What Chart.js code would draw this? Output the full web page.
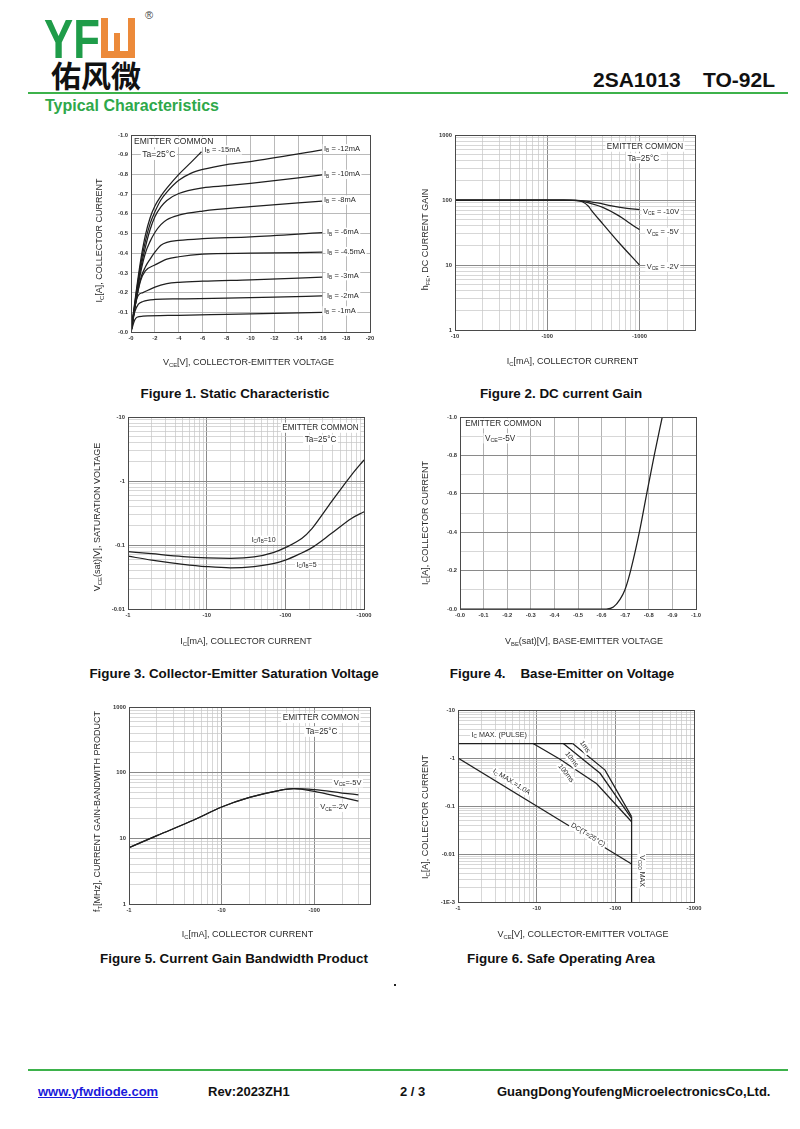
<!DOCTYPE html>
<html><head><meta charset="utf-8">
<script src="https://cdn.jsdelivr.net/npm/chart.js@4.4.1/dist/chart.umd.min.js"></script>
<style>
html,body{margin:0;padding:0;background:#fff;}
#page{position:relative;width:800px;height:1129px;overflow:hidden;font-family:"Liberation Sans",Arial,sans-serif;background:#fff;}
.abs{position:absolute;white-space:pre;line-height:1;}
.cap{position:absolute;font-weight:bold;font-size:13.4px;line-height:13.4px;color:#111;transform:translateX(-50%);white-space:pre;}
.fig{position:absolute;}
.hline{position:absolute;height:2px;background:#3db24b;}
.ob{position:absolute;background:#ec8a3a;}
</style></head><body>
<div id="page">
  <div class="abs" style="left:44px;top:11px;font-size:56px;font-weight:bold;color:#1f9c49;transform:scaleX(0.78);transform-origin:0 0;">YF</div>
  <div class="ob" style="left:101px;top:18px;width:7px;height:40px;"></div>
  <div class="ob" style="left:128px;top:18px;width:7px;height:40px;"></div>
  <div class="ob" style="left:101px;top:51px;width:34px;height:7px;"></div>
  <div class="ob" style="left:114px;top:33px;width:6px;height:20px;"></div>
  <div class="abs" style="left:145px;top:10px;font-size:11px;color:#444;">®</div>
  <div class="abs" style="left:51px;top:59px;font-size:30px;font-weight:bold;color:#111;font-family:'Noto Sans CJK SC',sans-serif;">佑风微</div>
  <div class="abs" style="left:593px;top:69px;font-size:21px;font-weight:bold;color:#111;">2SA1013</div>
  <div class="abs" style="left:703px;top:69px;font-size:21px;font-weight:bold;color:#111;">TO-92L</div>
  <div class="hline" style="left:28px;top:92px;width:760px;"></div>
  <div class="abs" style="left:45px;top:98px;font-size:16px;font-weight:bold;color:#2ea84a;">Typical Characteristics</div>

  <div class="cap" style="left:235px;top:386.5px;">Figure 1. Static Characteristic</div>
  <div class="cap" style="left:561px;top:386.5px;">Figure 2. DC current Gain</div>
  <div class="cap" style="left:234px;top:666.5px;">Figure 3. Collector-Emitter Saturation Voltage</div>
  <div class="cap" style="left:562px;top:666.5px;">Figure 4.    Base-Emitter on Voltage</div>
  <div class="cap" style="left:234px;top:951.5px;">Figure 5. Current Gain Bandwidth Product</div>
  <div class="cap" style="left:561px;top:951.5px;">Figure 6. Safe Operating Area</div>
  <div style="position:absolute;left:394px;top:984px;width:2px;height:2px;background:#222;"></div>

  <div class="hline" style="left:28px;top:1069px;width:760px;"></div>
  <div class="abs" style="left:38px;top:1084.5px;font-size:13px;font-weight:bold;color:#1a1adb;text-decoration:underline;">www.yfwdiode.com</div>
  <div class="abs" style="left:208px;top:1084.5px;font-size:13px;font-weight:bold;color:#111;">Rev:2023ZH1</div>
  <div class="abs" style="left:400px;top:1084.5px;font-size:13px;font-weight:bold;color:#111;">2 / 3</div>
  <div class="abs" style="left:497px;top:1084.5px;font-size:13px;font-weight:bold;color:#111;">GuangDongYoufengMicroelectronicsCo,Ltd.</div>
</div>
<script>
const FONT = '"Liberation Sans", Arial, Helvetica, sans-serif';

// ================= DATA (magnitudes; axes are labelled with the minus sign) =================
// Figure 1: Static characteristic  [Vce(V), Ic(A)]
const f1_xLabels = ['-0','-2','-4','-6','-8','-10','-12','-14','-16','-18','-20'];
const f1_yLabels = ['-0.0','-0.1','-0.2','-0.3','-0.4','-0.5','-0.6','-0.7','-0.8','-0.9','-1.0'];
const f1_ib1   = [[0,0],[0.3,0.06],[0.5,0.075],[1,0.08],[4,0.085],[8,0.09],[12,0.095],[16,0.1]];
const f1_ib2   = [[0,0],[0.3,0.1],[0.6,0.14],[1,0.155],[2,0.165],[4,0.168],[8,0.172],[12,0.177],[16,0.183]];
const f1_ib3   = [[0,0],[0.3,0.12],[0.6,0.185],[1,0.2],[2,0.228],[3,0.245],[4,0.252],[6,0.258],[10,0.265],[16,0.278]];
const f1_ib4_5 = [[0,0],[0.4,0.15],[0.8,0.26],[1.2,0.31],[2,0.34],[3,0.37],[4,0.382],[6,0.395],[10,0.4],[16,0.405]];
const f1_ib6   = [[0,0],[0.4,0.15],[0.8,0.27],[1.2,0.33],[1.6,0.37],[2,0.405],[2.5,0.44],[3,0.455],[4,0.465],[6,0.474],[10,0.483],[16,0.505]];
const f1_ib8   = [[0,0],[0.4,0.16],[0.8,0.3],[1.2,0.4],[1.6,0.46],[2,0.505],[2.5,0.545],[3,0.57],[4,0.593],[6,0.614],[10,0.636],[16,0.664]];
const f1_ib10  = [[0,0],[0.4,0.17],[0.8,0.32],[1.2,0.43],[1.6,0.52],[2,0.585],[2.5,0.635],[3,0.668],[4,0.703],[6,0.732],[8,0.743],[10,0.755],[16,0.797]];
const f1_ib12  = [[0,0],[0.4,0.18],[0.8,0.34],[1.2,0.46],[1.6,0.55],[2,0.61],[2.5,0.67],[3,0.71],[4,0.77],[5,0.805],[6,0.825],[8,0.85],[10,0.865],[16,0.924]];
const f1_ib15  = [[0,0],[0.4,0.19],[0.8,0.36],[1.2,0.49],[1.6,0.58],[2,0.64],[2.5,0.69],[3,0.73],[4,0.8],[5,0.86],[5.9,0.915]];

// Figure 2: DC current gain  [Ic(mA), hFE]
const f2_xDecades = [10,100,1000];   const f2_xLabels = ['-10','-100','-1000'];
const f2_yDecades = [1,10,100,1000]; const f2_yLabels = ['1','10','100','1000'];
const f2_vce10 = [[10,100],[180,100],[250,97],[350,90],[500,81],[700,75],[1000,71]];
const f2_vce5  = [[10,100],[150,100],[220,98],[300,88],[400,77],[600,57],[800,43],[1000,35]];
const f2_vce2  = [[10,100],[150,100],[200,99],[240,94],[280,80],[300,70],[400,43],[600,22],[1000,10]];

// Figure 3: Vce(sat)  [Ic(mA), Vce(sat)(V)]
const f3_xDecades = [1,10,100,1000];   const f3_xLabels = ['-1','-10','-100','-1000'];
const f3_yDecades = [0.01,0.1,1,10];   const f3_yLabels = ['-0.01','-0.1','-1','-10'];
const f3_ratio10 = [[1,0.079],[2,0.073],[5,0.066],[10,0.063],[20,0.062],[40,0.065],[70,0.076],[100,0.091],[163,0.127],[218,0.18],[264,0.246],[387,0.475],[692,1.24],[1000,2.13]];
const f3_ratio5  = [[1,0.067],[2,0.058],[5,0.05],[10,0.046],[20,0.044],[40,0.046],[70,0.051],[100,0.058],[150,0.072],[218,0.091],[387,0.152],[692,0.26],[1000,0.33]];

// Figure 4: Base-emitter on voltage  [Vbe(V), Ic(A)]
const f4_xLabels = ['-0.0','-0.1','-0.2','-0.3','-0.4','-0.5','-0.6','-0.7','-0.8','-0.9','-1.0'];
const f4_yLabels = ['-0.0','','-0.2','','-0.4','','-0.6','','-0.8','','-1.0'];
const f4_vbe = [[0,0],[0.62,0],[0.65,0.01],[0.678,0.05],[0.699,0.1],[0.723,0.2],[0.76,0.4],[0.791,0.6],[0.823,0.8],[0.857,1.0]];

// Figure 5: fT  [Ic(mA), fT(MHz)]
const f5_xDecades = [1,10,100];        const f5_xLabels = ['-1','-10','-100'];
const f5_yDecades = [1,10,100,1000];   const f5_yLabels = ['1','10','100','1000'];
const f5_vce5 = [[1,7.2],[2,11],[5,19],[10,30],[20,42],[40,53],[60,57],[100,55],[200,49],[300,46]];
const f5_vce2 = [[1,7.2],[2,11],[5,19],[10,30],[20,42],[40,53],[60,57],[100,52],[200,42],[300,37]];

// Figure 6: Safe operating area  [Vce(V), Ic(A)]
const f6_xDecades = [1,10,100,1000];          const f6_xLabels = ['-1','-10','-100','-1000'];
const f6_yDecades = [0.001,0.01,0.1,1,10];    const f6_yLabels = ['-1E-3','-0.01','-0.1','-1','-10'];
const f6_pulse = [[1,2],[28.7,2]];
const f6_100ms = [[9,2],[19.8,0.94],[58,0.29],[161,0.047]];
const f6_10ms  = [[21.8,2],[64,0.48],[161,0.055]];
const f6_1ms   = [[28.7,2],[74,0.56],[161,0.06]];
const f6_dc    = [[1,1],[161,0.0062]];
const f6_vceo  = [[161,0.06],[161,0.001]];

// ================= HELPERS =================
function parseRich(s){const out=[];const re=/_\{([^}]*)\}/g;let last=0,m;while((m=re.exec(s))){if(m.index>last)out.push({t:s.slice(last,m.index),sub:false});out.push({t:m[1],sub:true});last=re.lastIndex;}if(last<s.length)out.push({t:s.slice(last),sub:false});return out;}
function richWidth(ctx,segs,size,weight){let w=0;for(const g of segs){ctx.font=`${weight} ${g.sub?size*0.65:size}px ${FONT}`;w+=ctx.measureText(g.t).width;}return w;}
function drawRich(ctx,s,x,y,size,o){
  o=o||{};const segs=parseRich(s);const weight=o.weight||'normal';const w=richWidth(ctx,segs,size,weight);
  let sx=o.align==='center'?x-w/2:(o.align==='right'?x-w:x);
  ctx.save();ctx.textBaseline='middle';ctx.textAlign='left';
  if(o.bg){ctx.fillStyle=o.bg;ctx.fillRect(sx-1.5,y-size*0.62,w+3,size*1.24);}
  ctx.fillStyle=o.color||'#2a2a2a';
  for(const g of segs){const fs=g.sub?size*0.65:size;ctx.font=`${weight} ${fs}px ${FONT}`;ctx.fillText(g.t,sx,g.sub?y+size*0.28:y);sx+=ctx.measureText(g.t).width;}
  ctx.restore();
}
function isDec(v){const l=Math.log10(v);return Math.abs(l-Math.round(l))<1e-6;}
function minorTicks(decades,min,max){const out=[];const lo=Math.floor(Math.log10(min)),hi=Math.ceil(Math.log10(max));for(let e=lo;e<=hi;e++){for(let m=1;m<10;m++){const v=m*Math.pow(10,e);if(v>=min*0.999&&v<=max*1.001)out.push(v);}}return out;}
const tickStyle={color:'#333',font:{family:FONT,size:5.8,weight:'bold'},padding:3,autoSkip:false,maxRotation:0,minRotation:0};
function linAxis(min,max,step,labels,gridColor,gridWidth){
  return {type:'linear',min,max,ticks:Object.assign({},tickStyle,{stepSize:step,callback:(v,i)=>labels[i]!==undefined?labels[i]:''}),
    grid:{drawTicks:false,color:gridColor,lineWidth:gridWidth},border:{display:false}};
}
function logAxis(min,max,decades,labels){
  return {type:'logarithmic',min,max,
    afterBuildTicks:s=>{s.ticks=minorTicks(decades,min,max).map(v=>({value:v}));},
    ticks:Object.assign({},tickStyle,{callback:(v)=>{const k=decades.findIndex(d=>Math.abs(d-v)/d<1e-6);return k>=0?labels[k]:'';}}),
    grid:{drawTicks:false,color:c=>(c.tick&&isDec(c.tick.value))?'#8a8a8a':'#c6c6c6',lineWidth:c=>(c.tick&&isDec(c.tick.value))?1:0.7},
    border:{display:false}};
}
function ds(points,smooth){return {data:points.map(p=>({x:p[0],y:p[1]})),borderColor:'#1f1f1f',borderWidth:1.25,pointRadius:0,fill:false,tension:0,cubicInterpolationMode:smooth?'monotone':'default'};}
function notesPlugin(spec){
  return {id:'notes',afterDatasetsDraw(chart){
    const ctx=chart.ctx,xs=chart.scales.x,ys=chart.scales.y,ca=chart.chartArea;
    ctx.save();ctx.strokeStyle='#4a4a4a';ctx.lineWidth=1;ctx.strokeRect(Math.round(ca.left)+0.5,Math.round(ca.top)+0.5,Math.round(ca.right-ca.left),Math.round(ca.bottom-ca.top));ctx.restore();
    for(const n of spec.notes){
      const px=xs.getPixelForValue(n.x),py=ys.getPixelForValue(n.y);
      ctx.save();ctx.translate(px,py);if(n.rot)ctx.rotate(n.rot*Math.PI/180);
      drawRich(ctx,n.text,0,0,n.size||7.5,{align:n.align||'left',bg:'#fff'});
      ctx.restore();
    }
    const t=spec.titles;
    drawRich(ctx,t.x,(ca.left+ca.right)/2+t.xdx,ca.bottom+t.xdy,9,{align:'center'});
    ctx.save();ctx.translate(ca.left-t.ydx,(ca.top+ca.bottom)/2+t.ydy);ctx.rotate(-Math.PI/2);
    drawRich(ctx,t.y,0,0,9,{align:'center'});ctx.restore();
  }};
}
const page=document.getElementById('page');
function makeChart(box,plot,spec){
  const wrap=document.createElement('div');wrap.className='fig';
  Object.assign(wrap.style,{left:box.x+'px',top:box.y+'px',width:box.w+'px',height:box.h+'px'});
  const cv=document.createElement('canvas');cv.width=box.w;cv.height=box.h;cv.style.width=box.w+'px';cv.style.height=box.h+'px';
  wrap.appendChild(cv);page.appendChild(wrap);
  const WY=30,HX=16;
  const pad={left:plot.l-box.x-WY,top:plot.t-box.y,right:box.x+box.w-plot.r,bottom:box.y+box.h-plot.b-HX};
  spec.scales.x.afterFit=s=>{s.height=HX;};
  spec.scales.y.afterFit=s=>{s.width=WY;};
  return new Chart(cv,{type:'line',data:{datasets:spec.datasets},
    options:{responsive:false,animation:false,devicePixelRatio:window.devicePixelRatio||1,layout:{padding:pad},scales:spec.scales,
      plugins:{legend:{display:false},tooltip:{enabled:false}}},
    plugins:[notesPlugin(spec)]});
}

// ================= FIGURE 1 =================
makeChart({x:85,y:125,w:300,h:255},{l:131,t:135,r:370,b:332},{
  datasets:[f1_ib1,f1_ib2,f1_ib3,f1_ib4_5,f1_ib6,f1_ib8,f1_ib10,f1_ib12,f1_ib15].map(d=>ds(d,true)),
  scales:{x:linAxis(0,20,2,f1_xLabels,'#a8a8a8',0.8),y:linAxis(0,1,0.1,f1_yLabels,'#a8a8a8',0.8)},
  notes:[
    {x:0.25,y:0.965,text:'EMITTER COMMON',size:8.5},
    {x:0.95,y:0.9,text:'Ta=25°C',size:8.5},
    {x:6.15,y:0.924,text:'I_{B} = -15mA'},
    {x:16.15,y:0.93,text:'I_{B} = -12mA'},
    {x:16.15,y:0.80,text:'I_{B} = -10mA'},
    {x:16.15,y:0.67,text:'I_{B} = -8mA'},
    {x:16.4,y:0.506,text:'I_{B} = -6mA'},
    {x:16.4,y:0.408,text:'I_{B} = -4.5mA'},
    {x:16.4,y:0.286,text:'I_{B} = -3mA'},
    {x:16.4,y:0.184,text:'I_{B} = -2mA'},
    {x:16.15,y:0.107,text:'I_{B} = -1mA'}
  ],
  titles:{x:'V_{CE}[V], COLLECTOR-EMITTER VOLTAGE',xdx:-2,xdy:31,y:'I_{C}[A], COLLECTOR CURRENT',ydx:31,ydy:7}
});

// ================= FIGURE 2 =================
makeChart({x:405,y:125,w:305,h:255},{l:455,t:135,r:695,b:330},{
  datasets:[f2_vce10,f2_vce5,f2_vce2].map(d=>ds(d,true)),
  scales:{x:logAxis(10,4000,f2_xDecades,f2_xLabels),y:logAxis(1,1000,f2_yDecades,f2_yLabels)},
  notes:[
    {x:1150,y:661,text:'EMITTER COMMON',align:'center',size:8.2},
    {x:1100,y:438,text:'Ta=25°C',align:'center',size:8.2},
    {x:1094,y:66,text:'V_{CE} = -10V'},
    {x:1200,y:31.8,text:'V_{CE} = -5V'},
    {x:1200,y:9.4,text:'V_{CE} = -2V'}
  ],
  titles:{x:'I_{C}[mA], COLLECTOR CURRENT',xdx:-2.5,xdy:32,y:'h_{FE}, DC CURRENT GAIN',ydx:29,ydy:7}
});

// ================= FIGURE 3 =================
makeChart({x:80,y:405,w:305,h:255},{l:128,t:417,r:364,b:609},{
  datasets:[f3_ratio10,f3_ratio5].map(d=>ds(d,true)),
  scales:{x:logAxis(1,1000,f3_xDecades,f3_xLabels),y:logAxis(0.01,10,f3_yDecades,f3_yLabels)},
  notes:[
    {x:280,y:6.8,text:'EMITTER COMMON',align:'center',size:8.2},
    {x:280,y:4.4,text:'Ta=25°C',align:'center',size:8.2},
    {x:53,y:0.12,text:'I_{C}/I_{B}=10',align:'center',size:7},
    {x:186,y:0.0487,text:'I_{C}/I_{B}=5',align:'center',size:7}
  ],
  titles:{x:'I_{C}[mA], COLLECTOR CURRENT',xdx:0,xdy:33,y:'V_{CE}(sat)[V], SATURATION VOLTAGE',ydx:30,ydy:4}
});

// ================= FIGURE 4 =================
makeChart({x:405,y:405,w:305,h:255},{l:460,t:417,r:696,b:609},{
  datasets:[ds(f4_vbe,true)],
  scales:{x:linAxis(0,1,0.1,f4_xLabels,'#a0a0a0',0.8),
          y:linAxis(0,1,0.1,f4_yLabels,c=>(c.index%2===0)?'#8a8a8a':'#c6c6c6',c=>(c.index%2===0)?1:0.7)},
  notes:[
    {x:0.184,y:0.967,text:'EMITTER COMMON',align:'center',size:8.2},
    {x:0.17,y:0.889,text:'V_{CE}=-5V',align:'center',size:8.2}
  ],
  titles:{x:'V_{BE}(sat)[V], BASE-EMITTER VOLTAGE',xdx:6,xdy:33,y:'I_{C}[A], COLLECTOR CURRENT',ydx:34,ydy:10}
});

// ================= FIGURE 5 =================
makeChart({x:80,y:695,w:305,h:255},{l:129,t:707,r:370,b:904},{
  datasets:[f5_vce5,f5_vce2].map(d=>ds(d,true)),
  scales:{x:logAxis(1,400,f5_xDecades,f5_xLabels),y:logAxis(1,1000,f5_yDecades,f5_yLabels)},
  notes:[
    {x:118,y:680,text:'EMITTER COMMON',align:'center',size:8.2},
    {x:120,y:420,text:'Ta=25°C',align:'center',size:8.2},
    {x:229,y:70,text:'V_{CE}=-5V',align:'center',size:7.5},
    {x:164,y:29.7,text:'V_{CE}=-2V',align:'center',size:7.5}
  ],
  titles:{x:'I_{C}[mA], COLLECTOR CURRENT',xdx:-2,xdy:31,y:'f_{T}[MHz], CURRENT GAIN-BANDWITH PRODUCT',ydx:31,ydy:6}
});

// ================= FIGURE 6 =================
makeChart({x:405,y:695,w:305,h:255},{l:458,t:710,r:694,b:902},{
  datasets:[f6_pulse,f6_100ms,f6_10ms,f6_1ms,f6_dc,f6_vceo].map(d=>ds(d,false)),
  scales:{x:logAxis(1,1000,f6_xDecades,f6_xLabels),y:logAxis(0.001,10,f6_yDecades,f6_yLabels)},
  notes:[
    {x:1.49,y:3.0,text:'I_{C} MAX. (PULSE)',size:7.2},
    {x:41,y:1.72,text:'1ms',align:'center',rot:55,size:7},
    {x:27.9,y:0.94,text:'10ms',align:'center',rot:52,size:7},
    {x:23.6,y:0.48,text:'100ms',align:'center',rot:52,size:7},
    {x:4.8,y:0.32,text:'I_{C} MAX.=1.0A',align:'center',rot:32,size:7},
    {x:45,y:0.025,text:'DC(T=25°C)',align:'center',rot:32,size:7},
    {x:216,y:0.0044,text:'V_{CEO} MAX',align:'center',rot:90,size:7}
  ],
  titles:{x:'V_{CE}[V], COLLECTOR-EMITTER VOLTAGE',xdx:7,xdy:33,y:'I_{C}[A], COLLECTOR CURRENT',ydx:32.5,ydy:11}
});
</script>
</body></html>
